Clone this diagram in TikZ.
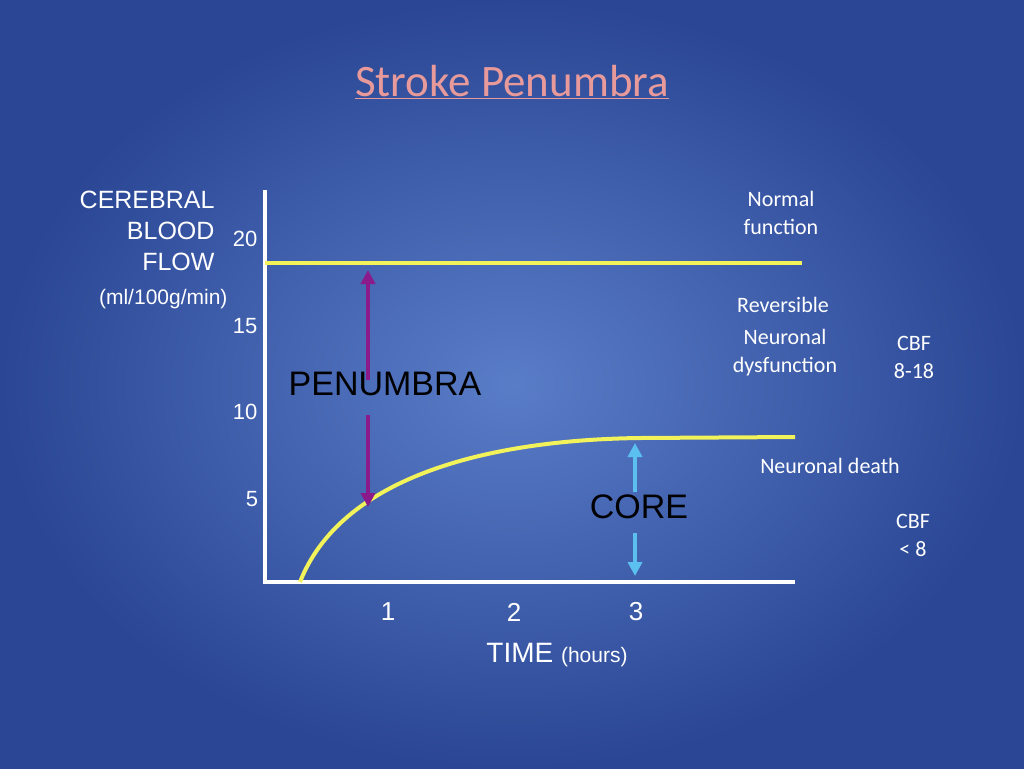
\documentclass[tikz,border=0pt]{standalone}
\usepackage{fontspec}
\setmainfont{Liberation Sans}
\newfontfamily\calfnt{Carlito}
\usetikzlibrary{arrows.meta}
\definecolor{bgin}{HTML}{5A7DC8}
\definecolor{bgout}{HTML}{2A4694}
\definecolor{ttl}{HTML}{E89A9A}
\definecolor{yl}{HTML}{F2F25A}
\definecolor{pp}{HTML}{8B1A8B}
\definecolor{lb}{HTML}{5BC0F0}
\tikzset{ax/.style={white,line width=4pt},
yline/.style={yl,line width=4pt},
lab/.style={white,font=\fontsize{21}{24}\selectfont,align=right,anchor=east},
clab/.style={white,font=\calfnt\fontsize{22}{28}\selectfont,align=center}}
\begin{document}
\begin{tikzpicture}[x=1pt,y=-1pt]
\shade[inner color=bgin,outer color=bgout] (0,0) rectangle (1024,768);
\useasboundingbox (0,0) rectangle (1024,768);
\node[ttl,font=\calfnt\fontsize{45}{50}\selectfont] (t) at (512,82) {\underline{Stroke Penumbra}};
\coordinate (o) at (265,582); \coordinate (top) at (265,190); \coordinate (xe) at (795,582);
\draw[ax] (top) -- (o) -- (xe);
\coordinate (y1) at (265,263); \coordinate (y2) at (802,263);
\draw[yline] (y1) -- (y2);
\coordinate (c0) at (300,582); \coordinate (c1) at (795,437);
\draw[yline] (c0) .. controls (340,480) and (480,440) .. (640,438) -- (c1);
\coordinate (pa) at (368,380); \coordinate (pb) at (368,270);
\coordinate (pc) at (368,415); \coordinate (pd) at (368,507);
\draw[pp,line width=4pt,-{Triangle[length=14pt,width=14pt]}] (pa) -- (pb);
\draw[pp,line width=4pt,-{Triangle[length=14pt,width=14pt]}] (pc) -- (pd);
\coordinate (ba) at (635,492); \coordinate (bb) at (635,443);
\coordinate (bc) at (635,533); \coordinate (bd) at (635,576);
\draw[lb,line width=4pt,-{Triangle[length=14pt,width=14pt]}] (ba) -- (bb);
\draw[lb,line width=4pt,-{Triangle[length=14pt,width=14pt]}] (bc) -- (bd);
\node[lab,font=\fontsize{25}{31}\selectfont] (cbf) at (218,231) {CEREBRAL\\BLOOD\\FLOW};
\node[lab] (unit) at (231,299) {(ml/100g/min)};
\node[white,font=\fontsize{22}{24}\selectfont] (n20) at (245,239) {20};
\node[white,font=\fontsize{22}{24}\selectfont] (n15) at (245,326) {15};
\node[white,font=\fontsize{22}{24}\selectfont] (n10) at (245,412) {10};
\node[white,font=\fontsize{22}{24}\selectfont] (n5) at (252,499) {5};
\node[white,font=\fontsize{26}{28}\selectfont] (x1) at (388,612) {1};
\node[white,font=\fontsize{26}{28}\selectfont] (x2) at (514,612) {2};
\node[white,font=\fontsize{26}{28}\selectfont] (x3) at (636,612) {3};
\node[white] (time) at (557,655) {\fontsize{28}{30}\selectfont TIME \fontsize{21}{24}\selectfont(hours)};
\node[black,font=\fontsize{34}{38}\selectfont] (pen) at (385,384) {PENUMBRA};
\node[black,font=\fontsize{34}{38}\selectfont] (core) at (639,507) {CORE};
\node[clab] (nf) at (781,213) {Normal\\function};
\node[clab] (rv) at (783,305) {Reversible};
\node[clab] (nd) at (785,353) {Neuronal\\dysfunction};
\node[clab] (c1t) at (914,357) {CBF\\8-18};
\node[clab] (ndt) at (830,466) {Neuronal death};
\node[clab] (c2t) at (913,535) {CBF\\{<} 8};
\end{tikzpicture}
\end{document}
